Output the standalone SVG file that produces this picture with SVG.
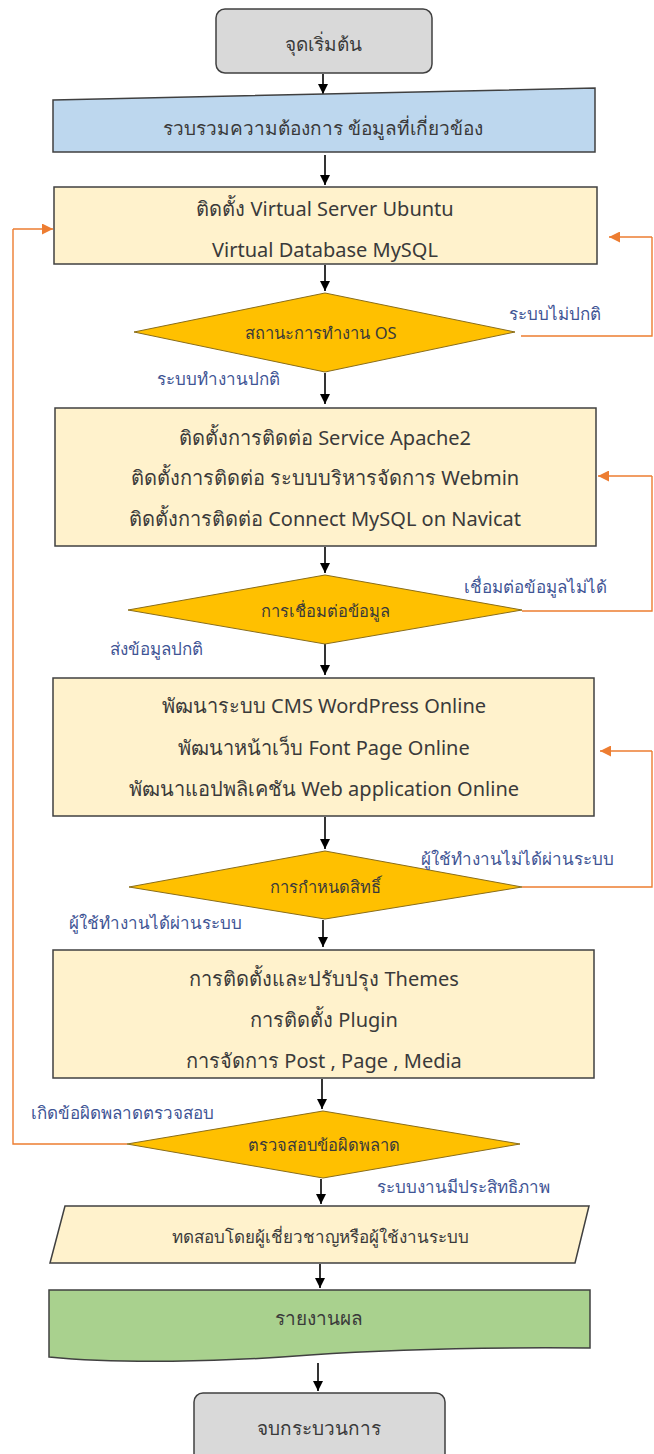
<svg xmlns="http://www.w3.org/2000/svg" width="654" height="1454" viewBox="0 0 654 1454">
<defs>
<marker id="ab" viewBox="0 0 10 10" refX="10" refY="5" markerWidth="10" markerHeight="10" markerUnits="userSpaceOnUse" orient="auto"><path d="M0,0 L10,5 L0,10 Z" fill="#000"/></marker>
<marker id="ao" viewBox="0 0 10 10" refX="10" refY="5" markerWidth="11" markerHeight="11" markerUnits="userSpaceOnUse" orient="auto"><path d="M0,0 L10,5 L0,10 Z" fill="#ed7d31"/></marker>
<style>
text{font-family:"Noto Sans","DejaVu Sans",sans-serif;text-anchor:middle;dominant-baseline:central;fill:#3a3a3a}
.t{font-size:20px}
.s{font-size:19px}
.d{font-size:16.5px}
.p{font-size:17px}
.l{font-size:17px;fill:#3f5595;text-anchor:start}
.box{fill:#fff2cc;stroke:#404040;stroke-width:1.5}
.dia{fill:#ffc000;stroke:#8a6d1a;stroke-width:1}
.term{fill:#d9d9d9;stroke:#404040;stroke-width:1.5}
.c{stroke:#000;stroke-width:1.6;fill:none;marker-end:url(#ab)}
.o{stroke:#ed7d31;stroke-width:1.4;fill:none}
.oa{stroke:#ed7d31;stroke-width:1.4;fill:none;marker-end:url(#ao)}
</style>
</defs>
<g id="connectors">
<line class="c" x1="323" y1="74" x2="323" y2="94"/>
<line class="c" x1="325" y1="155" x2="325" y2="185"/>
<line class="c" x1="325" y1="265" x2="325" y2="291"/>
<line class="c" x1="325" y1="373" x2="325" y2="404"/>
<line class="c" x1="325" y1="547" x2="325" y2="573"/>
<line class="c" x1="325" y1="644" x2="325" y2="675"/>
<line class="c" x1="325" y1="817" x2="325" y2="849"/>
<line class="c" x1="323" y1="920" x2="323" y2="947"/>
<line class="c" x1="322" y1="1079" x2="322" y2="1109"/>
<line class="c" x1="321" y1="1179" x2="321" y2="1204"/>
<line class="c" x1="320" y1="1264" x2="320" y2="1288"/>
<line class="c" x1="318" y1="1363" x2="318" y2="1391"/>
<polyline class="o" points="521,336 652,336 652,237"/>
<line class="oa" x1="652" y1="237" x2="609" y2="237"/>
<polyline class="o" points="522,611 652,611 652,476"/>
<line class="oa" x1="652" y1="476" x2="598" y2="476"/>
<polyline class="o" points="522,887 652,887 652,751"/>
<line class="oa" x1="652" y1="751" x2="600" y2="751"/>
<polyline class="o" points="127,1144 13,1144 13,229"/>
<line class="oa" x1="13" y1="229" x2="53" y2="229"/>
</g>
<g id="start"><rect class="term" x="216" y="9" width="216" height="64" rx="9"/><text class="s" x="323" y="44">จุดเริ่มต้น</text></g>
<g id="collect"><polygon points="53,100 595,88 595,152 53,152" fill="#bdd7ee" stroke="#404040" stroke-width="1.5"/><text class="s" x="323" y="128">รวบรวมความต้องการ ข้อมูลที่เกี่ยวข้อง</text></g>
<g id="install"><rect class="box" x="54" y="187" width="543" height="77"/><text class="t" x="325" y="208">ติดตั้ง Virtual Server Ubuntu</text><text class="t" x="325" y="249">Virtual Database MySQL</text></g>
<g id="os"><polygon class="dia" points="325,293 515,332 325,372 134,332"/><text class="d" x="321" y="332">สถานะการทำงาน OS</text></g>
<g id="lbl-os-bad"><text class="l" x="509" y="313">ระบบไม่ปกติ</text></g>
<g id="lbl-os-ok"><text class="l" x="157" y="378">ระบบทำงานปกติ</text></g>
<g id="connect"><rect class="box" x="55" y="408" width="541" height="138"/><text class="t" x="325" y="437">ติดตั้งการติดต่อ Service Apache2</text><text class="t" x="325" y="477">ติดตั้งการติดต่อ ระบบบริหารจัดการ Webmin</text><text class="t" x="325" y="518">ติดตั้งการติดต่อ Connect MySQL on Navicat</text></g>
<g id="link"><polygon class="dia" points="325,575 522,610 325,644 128,610"/><text class="d" x="325" y="610">การเชื่อมต่อข้อมูล</text></g>
<g id="lbl-link-bad"><text class="l" x="464" y="586">เชื่อมต่อข้อมูลไม่ได้</text></g>
<g id="lbl-link-ok"><text class="l" x="110" y="648">ส่งข้อมูลปกติ</text></g>
<g id="develop"><rect class="box" x="53" y="678" width="541" height="138"/><text class="t" x="324" y="705">พัฒนาระบบ CMS WordPress Online</text><text class="t" x="324" y="747">พัฒนาหน้าเว็บ Font Page Online</text><text class="t" x="324" y="788">พัฒนาแอปพลิเคชัน Web application Online</text></g>
<g id="rights"><polygon class="dia" points="325,851 522,887 325,919 129,887"/><text class="d" x="325" y="886">การกำหนดสิทธิ์</text></g>
<g id="lbl-rights-bad"><text class="l" x="421" y="858">ผู้ใช้ทำงานไม่ได้ผ่านระบบ</text></g>
<g id="lbl-rights-ok"><text class="l" x="69" y="922">ผู้ใช้ทำงานได้ผ่านระบบ</text></g>
<g id="manage"><rect class="box" x="53" y="950" width="541" height="128"/><text class="t" x="324" y="978">การติดตั้งและปรับปรุง Themes</text><text class="t" x="324" y="1019">การติดตั้ง  Plugin</text><text class="t" x="324" y="1060">การจัดการ Post , Page , Media</text></g>
<g id="check"><polygon class="dia" points="323,1111 520,1144 323,1178 127,1144"/><text class="d" x="324" y="1144">ตรวจสอบข้อผิดพลาด</text></g>
<g id="lbl-check-bad"><text class="l" x="31" y="1112">เกิดข้อผิดพลาดตรวจสอบ</text></g>
<g id="lbl-check-ok"><text class="l" x="377" y="1186">ระบบงานมีประสิทธิภาพ</text></g>
<g id="test"><polygon points="65,1206 589,1206 575,1263 50,1263" fill="#fff2cc" stroke="#404040" stroke-width="1.5"/><text class="p" x="320" y="1236">ทดสอบโดยผู้เชี่ยวชาญหรือผู้ใช้งานระบบ</text></g>
<g id="report"><path d="M49,1290 L590,1290 L590,1348 C470,1347 380,1350 310,1355 C220,1362 120,1364 49,1357 Z" fill="#a9d18e" stroke="#404040" stroke-width="1.5"/><text class="s" x="319" y="1318">รายงานผล</text></g>
<g id="end"><rect class="term" x="194" y="1393" width="251" height="70" rx="9"/><text class="s" x="319" y="1428">จบกระบวนการ</text></g>
</svg>
